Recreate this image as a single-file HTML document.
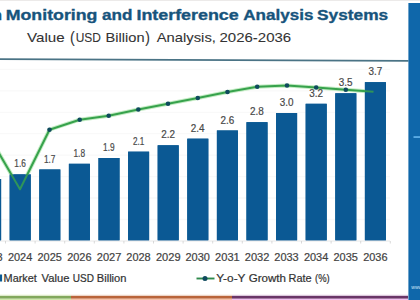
<!DOCTYPE html>
<html><head><meta charset="utf-8"><style>
html,body{margin:0;padding:0;background:#fff;}
body{width:420px;height:300px;position:relative;overflow:hidden;}
svg{position:absolute;left:0;top:0;display:block;}
svg text{font-family:"Liberation Sans",sans-serif;white-space:pre;}
</style></head><body>
<svg width="420" height="300" viewBox="0 0 420 300">
<rect x="0" y="0" width="420" height="1" fill="#eceae9"/>
<line x1="0" y1="59.1" x2="408.5" y2="60.9" stroke="#4a7385" stroke-width="1.7"/>
<line x1="0" y1="69.4" x2="390" y2="69.4" stroke="#f9f9f9" stroke-width="1.3"/>
<line x1="0" y1="90.8" x2="390" y2="90.8" stroke="#f9f9f9" stroke-width="1.3"/>
<line x1="0" y1="112.3" x2="390" y2="112.3" stroke="#f9f9f9" stroke-width="1.3"/>
<line x1="0" y1="133.7" x2="390" y2="133.7" stroke="#f9f9f9" stroke-width="1.3"/>
<line x1="0" y1="155.2" x2="390" y2="155.2" stroke="#f9f9f9" stroke-width="1.3"/>
<line x1="0" y1="176.6" x2="390" y2="176.6" stroke="#f9f9f9" stroke-width="1.3"/>
<line x1="0" y1="198.0" x2="390" y2="198.0" stroke="#f9f9f9" stroke-width="1.3"/>
<line x1="0" y1="219.5" x2="390" y2="219.5" stroke="#f9f9f9" stroke-width="1.3"/>
<rect x="-19.9" y="179" width="21" height="61.3" fill="#0b5a94"/>
<rect x="9.7" y="174.4" width="21" height="65.9" fill="#0b5a94"/>
<rect x="39.3" y="169.5" width="21" height="70.8" fill="#0b5a94"/>
<rect x="68.9" y="163.8" width="21" height="76.5" fill="#0b5a94"/>
<rect x="98.5" y="158" width="21" height="82.3" fill="#0b5a94"/>
<rect x="128.1" y="151.7" width="21" height="88.6" fill="#0b5a94"/>
<rect x="157.7" y="145.3" width="21" height="95.0" fill="#0b5a94"/>
<rect x="187.3" y="138.7" width="21" height="101.6" fill="#0b5a94"/>
<rect x="216.9" y="130.5" width="21" height="109.8" fill="#0b5a94"/>
<rect x="246.5" y="122.2" width="21" height="118.1" fill="#0b5a94"/>
<rect x="276.1" y="113" width="21" height="127.3" fill="#0b5a94"/>
<rect x="305.7" y="103.8" width="21" height="136.5" fill="#0b5a94"/>
<rect x="335.3" y="93.3" width="21" height="147.0" fill="#0b5a94"/>
<rect x="364.9" y="82.2" width="21" height="158.1" fill="#0b5a94"/>
<line x1="0" y1="241" x2="390" y2="241" stroke="#e2e2e2" stroke-width="0.8"/>
<line x1="5.5" y1="241" x2="5.5" y2="243.5" stroke="#cfcfcf" stroke-width="0.8"/>
<line x1="35.1" y1="241" x2="35.1" y2="243.5" stroke="#cfcfcf" stroke-width="0.8"/>
<line x1="64.7" y1="241" x2="64.7" y2="243.5" stroke="#cfcfcf" stroke-width="0.8"/>
<line x1="94.3" y1="241" x2="94.3" y2="243.5" stroke="#cfcfcf" stroke-width="0.8"/>
<line x1="123.9" y1="241" x2="123.9" y2="243.5" stroke="#cfcfcf" stroke-width="0.8"/>
<line x1="153.5" y1="241" x2="153.5" y2="243.5" stroke="#cfcfcf" stroke-width="0.8"/>
<line x1="183.1" y1="241" x2="183.1" y2="243.5" stroke="#cfcfcf" stroke-width="0.8"/>
<line x1="212.7" y1="241" x2="212.7" y2="243.5" stroke="#cfcfcf" stroke-width="0.8"/>
<line x1="242.3" y1="241" x2="242.3" y2="243.5" stroke="#cfcfcf" stroke-width="0.8"/>
<line x1="271.9" y1="241" x2="271.9" y2="243.5" stroke="#cfcfcf" stroke-width="0.8"/>
<line x1="301.5" y1="241" x2="301.5" y2="243.5" stroke="#cfcfcf" stroke-width="0.8"/>
<line x1="331.1" y1="241" x2="331.1" y2="243.5" stroke="#cfcfcf" stroke-width="0.8"/>
<line x1="360.7" y1="241" x2="360.7" y2="243.5" stroke="#cfcfcf" stroke-width="0.8"/>
<line x1="390.3" y1="241" x2="390.3" y2="243.5" stroke="#cfcfcf" stroke-width="0.8"/>
<line x1="419.9" y1="241" x2="419.9" y2="243.5" stroke="#cfcfcf" stroke-width="0.8"/>
<path d="M-9.4,139 L20.0,189.3 L49.5,129.7 L79.7,119.7 L108.7,115.8 L138.3,109.5 L168,103.8 L197.8,98 L227.5,92 L257.2,86.7 L287,85.5 L316.2,87.5 L345.8,89.7 L373.5,91.8" fill="none" stroke="#c4ecc4" stroke-width="4.0" stroke-linejoin="round"/>
<rect x="-19.9" y="179" width="21" height="61.3" fill="#0b5a94"/>
<rect x="9.7" y="174.4" width="21" height="65.9" fill="#0b5a94"/>
<rect x="39.3" y="169.5" width="21" height="70.8" fill="#0b5a94"/>
<rect x="68.9" y="163.8" width="21" height="76.5" fill="#0b5a94"/>
<rect x="98.5" y="158" width="21" height="82.3" fill="#0b5a94"/>
<rect x="128.1" y="151.7" width="21" height="88.6" fill="#0b5a94"/>
<rect x="157.7" y="145.3" width="21" height="95.0" fill="#0b5a94"/>
<rect x="187.3" y="138.7" width="21" height="101.6" fill="#0b5a94"/>
<rect x="216.9" y="130.5" width="21" height="109.8" fill="#0b5a94"/>
<rect x="246.5" y="122.2" width="21" height="118.1" fill="#0b5a94"/>
<rect x="276.1" y="113" width="21" height="127.3" fill="#0b5a94"/>
<rect x="305.7" y="103.8" width="21" height="136.5" fill="#0b5a94"/>
<rect x="335.3" y="93.3" width="21" height="147.0" fill="#0b5a94"/>
<rect x="364.9" y="82.2" width="21" height="158.1" fill="#0b5a94"/>
<path d="M-9.4,139 L20.0,189.3 L49.5,129.7 L79.7,119.7 L108.7,115.8 L138.3,109.5 L168,103.8 L197.8,98 L227.5,92 L257.2,86.7 L287,85.5 L316.2,87.5 L345.8,89.7 L373.5,91.8" fill="none" stroke="#37a24c" stroke-width="2.0" stroke-linejoin="round"/>
<circle cx="49.5" cy="129.7" r="2.3" fill="#0f4a5e"/>
<circle cx="79.7" cy="119.7" r="2.3" fill="#0f4a5e"/>
<circle cx="108.7" cy="115.8" r="2.3" fill="#0f4a5e"/>
<circle cx="138.3" cy="109.5" r="2.3" fill="#0f4a5e"/>
<circle cx="168" cy="103.8" r="2.3" fill="#0f4a5e"/>
<circle cx="197.8" cy="98" r="2.3" fill="#0f4a5e"/>
<circle cx="227.5" cy="92" r="2.3" fill="#0f4a5e"/>
<circle cx="257.2" cy="86.7" r="2.3" fill="#0f4a5e"/>
<circle cx="287" cy="85.5" r="2.3" fill="#0f4a5e"/>
<circle cx="316.2" cy="87.5" r="2.3" fill="#0f4a5e"/>
<circle cx="345.8" cy="89.7" r="2.3" fill="#0f4a5e"/>
<rect x="-19.9" y="179" width="21" height="61.3" fill="#0b5a94" fill-opacity="0.18"/>
<rect x="9.7" y="174.4" width="21" height="65.9" fill="#0b5a94" fill-opacity="0.18"/>
<rect x="39.3" y="169.5" width="21" height="70.8" fill="#0b5a94" fill-opacity="0.18"/>
<rect x="68.9" y="163.8" width="21" height="76.5" fill="#0b5a94" fill-opacity="0.18"/>
<rect x="98.5" y="158" width="21" height="82.3" fill="#0b5a94" fill-opacity="0.18"/>
<rect x="128.1" y="151.7" width="21" height="88.6" fill="#0b5a94" fill-opacity="0.18"/>
<rect x="157.7" y="145.3" width="21" height="95.0" fill="#0b5a94" fill-opacity="0.18"/>
<rect x="187.3" y="138.7" width="21" height="101.6" fill="#0b5a94" fill-opacity="0.18"/>
<rect x="216.9" y="130.5" width="21" height="109.8" fill="#0b5a94" fill-opacity="0.18"/>
<rect x="246.5" y="122.2" width="21" height="118.1" fill="#0b5a94" fill-opacity="0.18"/>
<rect x="276.1" y="113" width="21" height="127.3" fill="#0b5a94" fill-opacity="0.18"/>
<rect x="305.7" y="103.8" width="21" height="136.5" fill="#0b5a94" fill-opacity="0.18"/>
<rect x="335.3" y="93.3" width="21" height="147.0" fill="#0b5a94" fill-opacity="0.18"/>
<rect x="364.9" y="82.2" width="21" height="158.1" fill="#0b5a94" fill-opacity="0.18"/>
<text transform="translate(5.74,19.50) scale(1.1610,1.0)" style="font-size:15.3px;font-weight:bold;fill:#17547c;stroke:#17547c;stroke-width:0.35px">Monitoring</text>
<text transform="translate(101.94,19.50) scale(1.1184,1.0)" style="font-size:15.3px;font-weight:bold;fill:#17547c;stroke:#17547c;stroke-width:0.35px">and</text>
<text transform="translate(136.43,19.50) scale(1.1698,1.0)" style="font-size:15.3px;font-weight:bold;fill:#17547c;stroke:#17547c;stroke-width:0.35px">Interference</text>
<text transform="translate(243.24,19.50) scale(1.1158,1.0)" style="font-size:15.3px;font-weight:bold;fill:#17547c;stroke:#17547c;stroke-width:0.35px">Analysis</text>
<text transform="translate(317.03,19.50) scale(1.1320,1.0)" style="font-size:15.3px;font-weight:bold;fill:#17547c;stroke:#17547c;stroke-width:0.35px">Systems</text>
<text transform="translate(27.02,42.40) scale(1.1323,1.0)" style="font-size:13.4px;font-weight:normal;fill:#333333;stroke:#333333;stroke-width:0.08px">Value</text>
<text transform="translate(70.01,42.70) scale(1.0571,1.17)" style="font-size:13.4px;font-weight:normal;fill:#333333;stroke:#333333;stroke-width:0.08px">(</text>
<text transform="translate(75.71,42.40) scale(0.8935,1.0)" style="font-size:13.4px;font-weight:normal;fill:#333333;stroke:#333333;stroke-width:0.08px">USD</text>
<text transform="translate(105.51,42.40) scale(1.0933,1.0)" style="font-size:13.4px;font-weight:normal;fill:#333333;stroke:#333333;stroke-width:0.08px">Billion</text>
<text transform="translate(145.34,42.70) scale(1.0462,1.17)" style="font-size:13.4px;font-weight:normal;fill:#333333;stroke:#333333;stroke-width:0.08px">)</text>
<text transform="translate(156.70,42.40) scale(1.1048,1.0)" style="font-size:13.4px;font-weight:normal;fill:#333333;stroke:#333333;stroke-width:0.08px">Analysis,</text>
<text transform="translate(219.46,42.40) scale(1.1203,1.0)" style="font-size:13.4px;font-weight:normal;fill:#333333;stroke:#333333;stroke-width:0.08px">2026-2036</text>
<text transform="translate(3.60,281.80) scale(1.0678,1.0)" style="font-size:10.2px;font-weight:normal;fill:#333333;stroke:#333333;stroke-width:0.2px">Market</text>
<text transform="translate(41.60,281.80) scale(1.0990,1.0)" style="font-size:10.2px;font-weight:normal;fill:#333333;stroke:#333333;stroke-width:0.2px">Value</text>
<text transform="translate(72.86,281.80) scale(0.9827,1.0)" style="font-size:10.2px;font-weight:normal;fill:#333333;stroke:#333333;stroke-width:0.2px">USD</text>
<text transform="translate(96.78,281.80) scale(1.0913,1.0)" style="font-size:10.2px;font-weight:normal;fill:#333333;stroke:#333333;stroke-width:0.2px">Billion</text>
<text transform="translate(216.31,281.80) scale(1.1633,1.0)" style="font-size:10.2px;font-weight:normal;fill:#333333;stroke:#333333;stroke-width:0.2px">Y-o-Y</text>
<text transform="translate(248.73,281.80) scale(1.1339,1.0)" style="font-size:10.2px;font-weight:normal;fill:#333333;stroke:#333333;stroke-width:0.2px">Growth</text>
<text transform="translate(288.50,281.80) scale(1.0716,1.0)" style="font-size:10.2px;font-weight:normal;fill:#333333;stroke:#333333;stroke-width:0.2px">Rate</text>
<text transform="translate(315.11,281.80) scale(0.9241,1.0)" style="font-size:10.2px;font-weight:normal;fill:#333333;stroke:#333333;stroke-width:0.2px">(%)</text>
<text transform="translate(-8.67,19.50) scale(1.1610,1.0)" style="font-size:15.3px;font-weight:bold;fill:#17547c;stroke:#17547c;stroke-width:0.35px">n</text>
<text transform="translate(-21.67,260.70) scale(1.0444,1.0)" style="font-size:10.5px;font-weight:normal;fill:#424242;stroke:#424242;stroke-width:0.2px">2023</text>
<text transform="translate(7.93,260.70) scale(1.0444,1.0)" style="font-size:10.5px;font-weight:normal;fill:#424242;stroke:#424242;stroke-width:0.2px">2024</text>
<text transform="translate(37.53,260.70) scale(1.0444,1.0)" style="font-size:10.5px;font-weight:normal;fill:#424242;stroke:#424242;stroke-width:0.2px">2025</text>
<text transform="translate(67.13,260.70) scale(1.0444,1.0)" style="font-size:10.5px;font-weight:normal;fill:#424242;stroke:#424242;stroke-width:0.2px">2026</text>
<text transform="translate(96.72,260.70) scale(1.0562,1.0)" style="font-size:10.5px;font-weight:normal;fill:#424242;stroke:#424242;stroke-width:0.2px">2027</text>
<text transform="translate(126.33,260.70) scale(1.0444,1.0)" style="font-size:10.5px;font-weight:normal;fill:#424242;stroke:#424242;stroke-width:0.2px">2028</text>
<text transform="translate(155.92,260.70) scale(1.0562,1.0)" style="font-size:10.5px;font-weight:normal;fill:#424242;stroke:#424242;stroke-width:0.2px">2029</text>
<text transform="translate(185.53,260.70) scale(1.0444,1.0)" style="font-size:10.5px;font-weight:normal;fill:#424242;stroke:#424242;stroke-width:0.2px">2030</text>
<text transform="translate(215.12,260.70) scale(1.0562,1.0)" style="font-size:10.5px;font-weight:normal;fill:#424242;stroke:#424242;stroke-width:0.2px">2031</text>
<text transform="translate(244.72,260.70) scale(1.0562,1.0)" style="font-size:10.5px;font-weight:normal;fill:#424242;stroke:#424242;stroke-width:0.2px">2032</text>
<text transform="translate(274.33,260.70) scale(1.0444,1.0)" style="font-size:10.5px;font-weight:normal;fill:#424242;stroke:#424242;stroke-width:0.2px">2033</text>
<text transform="translate(303.93,260.70) scale(1.0444,1.0)" style="font-size:10.5px;font-weight:normal;fill:#424242;stroke:#424242;stroke-width:0.2px">2034</text>
<text transform="translate(333.53,260.70) scale(1.0444,1.0)" style="font-size:10.5px;font-weight:normal;fill:#424242;stroke:#424242;stroke-width:0.2px">2035</text>
<text transform="translate(363.13,260.70) scale(1.0444,1.0)" style="font-size:10.5px;font-weight:normal;fill:#424242;stroke:#424242;stroke-width:0.2px">2036</text>
<text transform="translate(14.28,167.40) scale(0.8314,1.0)" style="font-size:10px;font-weight:normal;fill:#484848;stroke:#484848;stroke-width:0.2px">1.6</text>
<text transform="translate(43.88,162.50) scale(0.8314,1.0)" style="font-size:10px;font-weight:normal;fill:#484848;stroke:#484848;stroke-width:0.2px">1.7</text>
<text transform="translate(73.48,156.80) scale(0.8314,1.0)" style="font-size:10px;font-weight:normal;fill:#484848;stroke:#484848;stroke-width:0.2px">1.8</text>
<text transform="translate(103.08,151.00) scale(0.8314,1.0)" style="font-size:10px;font-weight:normal;fill:#484848;stroke:#484848;stroke-width:0.2px">1.9</text>
<text transform="translate(132.89,144.70) scale(0.8154,1.0)" style="font-size:10px;font-weight:normal;fill:#484848;stroke:#484848;stroke-width:0.2px">2.1</text>
<text transform="translate(161.25,138.30) scale(0.9923,1.0)" style="font-size:10px;font-weight:normal;fill:#484848;stroke:#484848;stroke-width:0.2px">2.2</text>
<text transform="translate(190.85,131.70) scale(0.9923,1.0)" style="font-size:10px;font-weight:normal;fill:#484848;stroke:#484848;stroke-width:0.2px">2.4</text>
<text transform="translate(220.45,123.50) scale(0.9923,1.0)" style="font-size:10px;font-weight:normal;fill:#484848;stroke:#484848;stroke-width:0.2px">2.6</text>
<text transform="translate(250.05,115.20) scale(0.9923,1.0)" style="font-size:10px;font-weight:normal;fill:#484848;stroke:#484848;stroke-width:0.2px">2.8</text>
<text transform="translate(279.65,106.00) scale(0.9923,1.0)" style="font-size:10px;font-weight:normal;fill:#484848;stroke:#484848;stroke-width:0.2px">3.0</text>
<text transform="translate(309.25,96.80) scale(0.9923,1.0)" style="font-size:10px;font-weight:normal;fill:#484848;stroke:#484848;stroke-width:0.2px">3.2</text>
<text transform="translate(338.85,86.30) scale(0.9923,1.0)" style="font-size:10px;font-weight:normal;fill:#484848;stroke:#484848;stroke-width:0.2px">3.5</text>
<text transform="translate(368.45,75.20) scale(0.9923,1.0)" style="font-size:10px;font-weight:normal;fill:#484848;stroke:#484848;stroke-width:0.2px">3.7</text>
<rect x="0" y="274.5" width="2.1" height="7" fill="#0b5a94"/>
<line x1="196.5" y1="278.5" x2="214.5" y2="278.5" stroke="#2f8a4c" stroke-width="1.9"/>
<circle cx="205" cy="278.5" r="2.5" fill="#0f4a5e"/>
<rect x="0" y="294.4" width="71" height="1.4" fill="#f2f8e2"/>
<rect x="71" y="294.4" width="161" height="1.4" fill="#fbeee8"/>
<rect x="232" y="294.4" width="176" height="1.4" fill="#f6eaf6"/>
<rect x="0" y="298.6" width="71" height="1.4" fill="#cfe8aa"/>
<rect x="71" y="298.6" width="161" height="1.4" fill="#f6c0a8"/>
<rect x="232" y="298.6" width="176" height="1.4" fill="#f4c0f0"/>
<rect x="0" y="295.8" width="71" height="2.8" fill="#82a85c"/>
<rect x="71" y="295.8" width="161" height="2.8" fill="#b9643a"/>
<rect x="232" y="295.8" width="176" height="2.8" fill="#6a3568"/>
<rect x="408.4" y="3" width="12" height="297" fill="#0f67aa"/>
<rect x="413.5" y="136.2" width="7" height="1.7" fill="#62b2ea"/>
<text x="411.3" y="289.3" style="font-size:5px;fill:#cfe6f8">www</text>
</svg>
</body></html>
